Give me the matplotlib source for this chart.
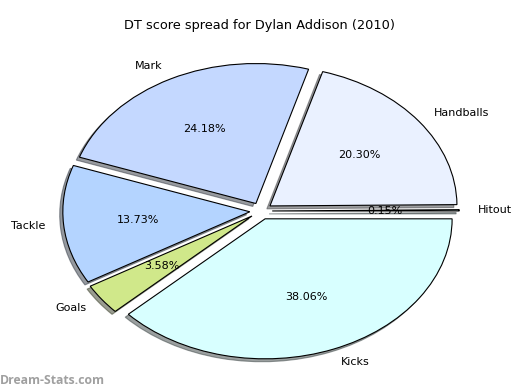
import matplotlib
matplotlib.use('Agg')
import matplotlib.pyplot as plt

# DT score spread data
labels = ['Hitout', 'Handballs', 'Mark', 'Tackle', 'Goals', 'Kicks']
values = [0.15, 20.30, 24.18, 13.73, 3.58, 38.06]
colors = ['#d8ffff', '#eaf1ff', '#c4d8ff', '#b4d4ff', '#d0e88a', '#d8ffff']
explode = [0.06] * len(values)

fig = plt.figure(figsize=(5.2, 3.9), dpi=100)
ax = fig.add_axes([0, 0, 1, 1])

wedges, texts, autotexts = ax.pie(values, labels=labels, colors=colors, explode=explode,
                                  autopct='%1.2f%%', startangle=0,
                                  shadow={'ox': -0.012, 'oy': -0.015, 'shade': 0.75},
                                  pctdistance=0.6, labeldistance=1.1,
                                  wedgeprops={'edgecolor': 'black', 'linewidth': 0.8},
                                  textprops={'fontsize': 8})
ax.set_aspect('auto')

# stretch the pie into an ellipse like the original
cx, cy, rx, ry = 261, 211, 187, 140
ax.set_xlim(-cx / rx, (520 - cx) / rx)
ax.set_ylim(-(390 - cy) / ry, cy / ry)
ax.axis('off')

fig.text(260, 390 - 25, 'DT score spread for Dylan Addison (2010)', ha='center', va='center',
         fontsize=9.3, transform=None)
fig.text(0, 10, 'Dream-Stats.com', ha='left', va='center', fontsize=8.8,
         color='#a0a0a0', family='Open Sans', fontweight='bold', transform=None)

fig.savefig('out.png', dpi=100)
